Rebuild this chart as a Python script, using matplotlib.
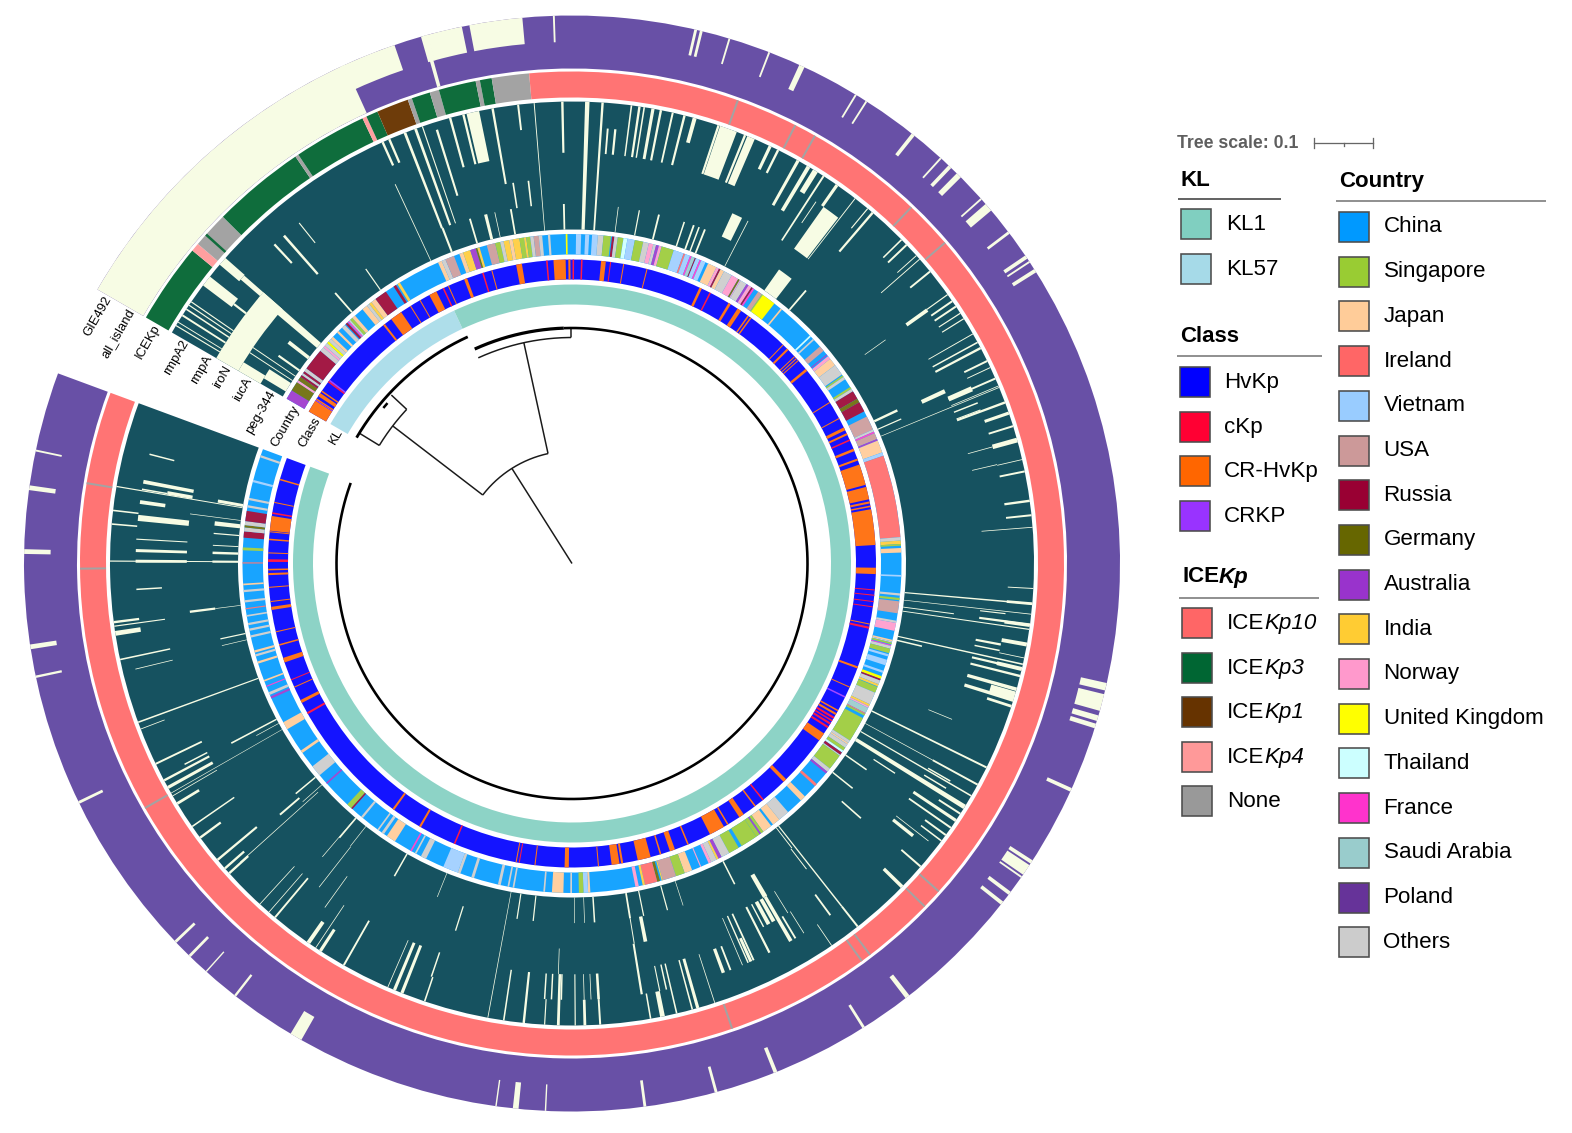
import matplotlib
matplotlib.use("Agg")
import matplotlib.pyplot as plt
import numpy as np

plt.rcParams['font.family'] = ['Liberation Sans', 'DejaVu Sans']

W, H = 1572, 1133
CX, CY, RMAX = 572.0, 563.5, 552.0

# angles are degrees clockwise from north, the ring runs from -60 to 290.3
START, END = -60.0, 290.3

kl_names = ["KL1", "KL57"]
kl_colors = ["#80CFC0", "#A6DAE8"]
class_names = ["HvKp", "cKp", "CR-HvKp", "CRKP"]
class_colors = ["#0000FF", "#FF0033", "#FF6600", "#9933FF"]
ice_names = ["10", "3", "1", "4"]
ice_colors = ["#FF6666", "#006633", "#663300", "#FF9999", "#999999"]
country_names = ["China", "Singapore", "Japan", "Ireland", "Vietnam", "USA", "Russia", "Germany", "Australia",
                 "India", "Norway", "United Kingdom", "Thailand", "France", "Saudi Arabia", "Poland", "Others"]
country_colors = ["#0099FF", "#99CC33", "#FFCC99", "#FF6666", "#99CCFF", "#CC9999", "#990033", "#666600", "#9933CC",
                  "#FFCC33", "#FF99CC", "#FFFF00", "#CCFFFF", "#FF33CC", "#99CCCC", "#663399", "#CCCCCC"]
column_labels = ["GIE492", "all_island", "ICEKp", "rmpA2", "rmpA", "iroN", "iucA", "peg-344", "Country", "Class", "KL"]

heat_color = "#165260"
absent_color = "#F7FCE4"
present_color = "#6850A6"

# colours in the rings look paler than the legend, thin white lines between the leaves
ring_country = dict(zip(["C", "Si", "J", "Ir", "V", "U", "R", "G", "A", "In", "N", "UK", "T", "F", "SA", "P", "O"],
                        ["#18A4FF", "#A3CF48", "#FFCFA0", "#FF7777", "#A6D2FF", "#CFA3A3", "#A31A45", "#77771A", "#A447D0",
                         "#FFD04A", "#FFA3D0", "#FFFF00", "#D2FFFF", "#FF47D0", "#A3D0D0", "#7547A3", "#D0D0D0"]))
ring_class = {"H": "#1414FF", "c": "#FF1A45", "R": "#FF7518", "P": "#A347FF"}
ring_ice = {"10": "#FF7474", "3": "#0F6D3C", "1": "#6E3C0A", "4": "#FF9F9F", "N": "#A3A3A3"}

kl_bands = [(-60, -25, "#AEDEEA"), (-25, 290.3, "#8DD3C6")]

country_bands = [
    (-60, -58.3, "A"), (-58.3, -56.6, "G"), (-56.6, -56.2, "N"), (-56.2, -55.5, "G"), (-55.5, -55.1, "R"),
    (-55.1, -54.7, "O"), (-54.7, -54.3, "R"), (-54.3, -53.7, "O"), (-53.7, -49.8, "R"), (-49.8, -49, "O"),
    (-49, -48.6, "N"), (-48.6, -48, "O"), (-48, -47.6, "UK"), (-47.6, -47, "O"), (-47, -46.5, "J"),
    (-45.5, -45.1, "J"), (-44.3, -43.6, "O"), (-43.4, -43, "R"), (-42.9, -42.6, "F"), (-42.6, -42.3, "O"),
    (-42.3, -41.8, "Si"), (-41.8, -41.2, "J"), (-39.5, -38.5, "J"), (-38.5, -38, "O"), (-38, -37.5, "In"),
    (-37.5, -36.6, "J"), (-36.6, -34.4, "R"), (-32.8, -32.3, "R"), (-32, -31.5, "In"), (-24, -23.3, "J"),
    (-23.3, -22.6, "O"), (-22.6, -21, "U"), (-20, -19.3, "J"), (-19.3, -18, "In"), (-18, -17, "A"),
    (-17, -16.7, "G"), (-16.7, -16.3, "In"), (-15, -13.5, "U"), (-13.5, -12.6, "Si"), (-12.6, -12, "O"),
    (-12, -11, "In"), (-11, -10.4, "J"), (-10.4, -9.2, "In"), (-9.2, -8.4, "Si"), (-8.4, -8, "In"),
    (-8, -7.3, "Si"), (-7.3, -6.7, "O"), (-6.7, -5.8, "U"), (-5.8, -5.2, "O"), (-4.2, -3.8, "O"),
    (-1.1, -0.8, "UK"), (0.7, 1.6, "V"), (2.3, 3, "V"), (3.5, 4.5, "V"), (4.5, 5.5, "O"), (5.5, 6.8, "Si"),
    (7, 7.4, "R"), (7.4, 8, "O"), (8, 9, "Si"), (9, 9.7, "T"), (9.7, 11, "V"), (11, 12.5, "Si"), (12.5, 13.5, "O"),
    (13.5, 14.3, "N"), (14.3, 14.8, "O"), (14.8, 15.3, "A"), (15.3, 15.8, "N"), (15.8, 18, "Si"), (18, 19.8, "V"),
    (19.8, 20.1, "Ir"), (20.1, 21, "V"), (21, 21.3, "F"), (21.3, 21.9, "SA"), (21.9, 22.1, "R"), (22.1, 22.8, "V"),
    (22.8, 23.1, "F"), (23.1, 23.9, "V"), (24.4, 26, "J"), (26, 26.5, "N"), (26.5, 26.8, "R"), (26.8, 27.5, "J"),
    (27.5, 29, "O"), (29, 30.3, "N"), (30.3, 30.6, "G"), (30.6, 30.8, "N"), (30.8, 32, "O"), (32, 32.4, "A"),
    (32.4, 33, "N"), (33, 33.3, "R"), (33.3, 33.6, "F"), (34.4, 35.2, "U"), (35.2, 35.4, "Si"), (35.4, 37.9, "UK"),
    (39.3, 39.6, "J"), (46.2, 46.5, "T"), (47, 47.3, "O"), (48.8, 49.8, "U"), (50.6, 50.8, "A"), (51, 51.6, "N"),
    (51.6, 53, "J"), (53, 55, "O"), (55.2, 55.5, "Si"), (55.5, 56, "O"), (57.6, 58, "Si"), (58, 58.5, "O"),
    (58.5, 60, "R"), (60, 60.7, "G"), (60.7, 62.5, "R"), (63.5, 66, "U"), (66, 66.4, "O"), (66.4, 66.7, "F"),
    (66.7, 67.8, "U"), (67.8, 68.1, "A"), (68.1, 70.3, "J"), (70.3, 70.9, "V"), (70.9, 85.4, "Ir"), (85.4, 86, "O"),
    (86, 86.6, "In"), (86.6, 86.9, "Si"), (87.3, 88.1, "J"), (92, 92.3, "V"), (95.2, 95.6, "O"), (96, 96.4, "Si"),
    (96.6, 98.7, "U"), (100, 100.4, "O"), (100.4, 101.8, "N"), (103.4, 103.7, "J"), (103.7, 103.9, "O"),
    (103.9, 104.2, "Si"), (104.3, 104.5, "F"), (104.5, 105, "O"), (105, 105.8, "Si"), (106, 106.4, "V"),
    (107, 108, "V"), (109, 109.4, "V"), (110, 110.5, "UK"), (110.5, 110.8, "R"), (110.8, 111.5, "O"),
    (111.5, 111.9, "In"), (112, 113.1, "Si"), (113.1, 115.3, "O"), (115.3, 115.7, "In"), (115.7, 116, "N"),
    (116, 117, "SA"), (117, 117.2, "Ir"), (117.2, 117.5, "Si"), (118, 122.5, "Si"), (122.5, 123, "O"),
    (123, 123.3, "J"), (123.3, 124, "O"), (124, 124.6, "Si"), (124.6, 125, "T"), (125, 125.5, "R"),
    (125.5, 125.7, "O"), (125.7, 128.5, "Si"), (128.5, 129.2, "O"), (129.2, 129.6, "A"), (132, 132.5, "Ir"),
    (135, 136, "J"), (139, 141, "O"), (141, 142.4, "J"), (142.8, 144.5, "J"), (144.5, 145, "Si"), (145, 145.3, "A"),
    (145.3, 146, "Si"), (146, 149, "Si"), (149.6, 151.5, "Si"), (151.5, 153, "O"), (153, 153.6, "A"),
    (153.6, 154, "In"), (154, 155, "O"), (155, 155.5, "N"), (156.9, 157.1, "N"), (158.6, 160, "J"),
    (160, 161.6, "Si"), (161.6, 164, "U"), (164, 164.2, "In"), (164.5, 165, "G"), (165, 167.2, "Ir"),
    (167.2, 167.6, "In"), (168.3, 168.9, "N"), (176.8, 177.2, "J"), (177.2, 178, "V"), (178, 178.8, "Si"),
    (180, 180.3, "O"), (181.5, 183.5, "J"), (184.7, 185, "O"), (190.1, 190.4, "O"), (191, 191.3, "O"),
    (192.5, 193, "O"), (197.3, 197.8, "O"), (199.8, 200.3, "O"), (200.3, 203, "V"), (206.3, 207.3, "O"),
    (208.2, 208.5, "O"), (209.1, 209.4, "F"), (212.5, 214.2, "J"), (214.8, 215.3, "O"), (215.9, 216.2, "O"),
    (219.4, 219.8, "O"), (221.8, 222.1, "R"), (222.1, 223, "Si"), (228, 228.3, "A"), (230, 232, "O"),
    (234.9, 235.4, "J"), (239.8, 241.2, "J"), (245.8, 246.2, "A"), (246.5, 247, "O"), (248, 248.2, "F"),
    (249, 249.3, "J"), (252.3, 252.7, "J"), (253.6, 254, "O"), (254.3, 254.7, "J"), (257, 257.4, "O"),
    (258.2, 258.6, "O"), (259.2, 259.6, "O"), (260.7, 261, "O"), (262, 262.2, "Ir"), (263.2, 263.6, "O"),
    (265, 265.4, "O"), (266.2, 266.5, "J"), (270, 270.2, "Ir"), (272.3, 272.8, "Si"), (274.5, 275.6, "R"),
    (275.6, 276.3, "O"), (276.3, 276.7, "G"), (276.7, 277.4, "O"), (277.4, 279.2, "R"), (279.8, 280.2, "O"),
    (281.1, 281.5, "O"), (284.3, 284.7, "V"), (288.8, 289.2, "O"),
]

class_bands = [
    (-60, -57.6, "R"), (-57.6, -57.4, "P"), (-57.4, -57.1, "R"), (-56.6, -55.9, "R"), (-55.6, -55.3, "R"),
    (-53.4, -53.1, "c"), (-53.1, -52.8, "P"), (-38.4, -38, "R"), (-36.5, -34.2, "R"), (-32.2, -32, "R"), (-30.1, -29.9, "R"),
    (-28, -26.5, "R"), (-25.2, -24.9, "c"), (-24.1, -23.9, "R"), (-20.8, -20.2, "R"), (-17.2, -16.9, "c"),
    (-15.4, -15.2, "R"), (-10.6, -9.5, "R"), (-4.9, -4.6, "c"), (-3.5, -1.2, "R"), (-0.7, -0.3, "R"), (0.1, 0.4, "c"),
    (1.7, 2, "c"), (5.5, 6.4, "R"), (7.2, 7.4, "c"), (9.7, 9.9, "R"), (14.2, 14.4, "R"), (24.8, 25.3, "R"),
    (26.9, 27.2, "c"), (31, 31.5, "R"), (33, 33.8, "R"), (35.3, 35.6, "R"), (35.9, 36.2, "R"), (43.9, 44.1, "R"),
    (45, 45.4, "R"), (47, 47.2, "R"), (47.5, 47.7, "R"), (48, 48.2, "R"), (50.2, 50.7, "R"), (57.9, 58.1, "R"),
    (61.4, 61.6, "R"), (63.4, 64, "R"), (64.6, 65, "R"), (65.9, 66.2, "c"), (67.8, 68.3, "R"), (69.8, 70.2, "R"),
    (71, 75, "R"), (75.4, 77.8, "R"), (78.2, 78.6, "R"), (79, 79.3, "R"), (79.7, 86.5, "R"), (90.8, 92, "R"),
    (94.9, 95.1, "c"), (95.9, 96.1, "c"), (97.1, 97.3, "c"), (98.1, 98.3, "c"), (101.4, 101.6, "R"), (102, 102.4, "c"),
    (109.8, 110.2, "R"), (113.9, 114.1, "R"), (115.9, 116.2, "P"), (118.8, 119.1, "R"), (119.5, 119.9, "R"),
    (120.3, 120.7, "c"), (121, 121.3, "c"), (121.6, 122, "c"), (122.4, 122.8, "c"), (124, 125.6, "R"),
    (135.2, 135.9, "R"), (140.9, 141.2, "c"), (142.8, 143.1, "R"), (145.6, 146.6, "R"), (149, 149.3, "R"),
    (150, 153, "R"), (157.4, 157.7, "R"), (160.2, 161.2, "R"), (162.9, 163.2, "R"), (165, 167.5, "R"), (170.3, 170.7, "R"),
    (171, 172.5, "R"), (174.9, 175.1, "R"), (180.6, 181.4, "R"), (186.9, 187.1, "R"), (189.9, 190.1, "c"),
    (190.5, 190.7, "R"), (202.6, 202.9, "c"), (209.8, 210.2, "R"), (215.8, 216.2, "R"), (240.3, 240.7, "c"),
    (242.7, 243.3, "R"), (245.9, 246.1, "R"), (247.4, 247.6, "c"), (251, 251.9, "R"), (254.3, 254.6, "R"),
    (256.9, 257.1, "R"), (261.2, 261.8, "R"), (262.7, 262.9, "R"), (265.4, 265.6, "R"), (267.8, 268.2, "R"),
    (268.7, 269, "R"), (270.3, 270.8, "c"), (271.9, 272.1, "R"), (274.4, 274.7, "R"), (275.9, 276.1, "R"),
    (276.2, 279, "R"), (279.4, 279.7, "c"), (281.5, 281.7, "R"), (285.9, 286.2, "R"),
]

ice_bands = [
    (-60, -50.5, "3"), (-50.5, -49.5, "4"), (-49.5, -45.2, "N"), (-48.2, -47.9, "3"), (-45.2, -34.2, "3"),
    (-34.2, -33.8, "N"), (-33.8, -25.2, "3"), (-25.2, -24.7, "4"), (-24.7, -23.3, "3"), (-23.3, -19.5, "1"),
    (-19.5, -19, "N"), (-19, -16.8, "3"), (-16.8, -15.7, "N"), (-15.7, -11.3, "3"), (-11.3, -10.8, "N"),
    (-10.8, -9.4, "3"), (-9.4, -5, "N"), (-5, 290.3, "10"),
]
ice_none_lines = [19.7, 27, 29.6, 43.6, 49.3, 131.8, 134.2, 142.7, 143.9, 161, 240.2, 269.4, 279.4]

# outer two columns: spans without the element
both_absent = [(-60, -24.5), (-15.8, -15.4)]
gie_absent = [(-25, -18.9), (-16, -15.2), (-15.3, -11.6), (-10.8, -5.2), (-2, -1.8), (12.9, 13.2), (13.5, 13.8), (16.6, 16.8),
              (21, 21.2), (24.5, 25.1), (31.1, 31.3), (32.4, 32.6), (38.3, 38.7), (42.2, 42.4), (43.4, 43.8), (44.6, 45.2),
              (48.2, 48.4), (49, 49.9), (52.7, 53), (55.8, 56.2), (56.5, 56.7), (57.5, 57.9), (102.6, 103.4), (103.8, 105.6),
              (106.1, 106.7), (107, 107.5), (114.2, 114.6), (122.8, 123.2), (123.4, 124.6), (124.8, 125), (126.8, 127.2),
              (128.1, 128.5), (142, 142.5), (147.7, 148), (158, 158.4), (164.6, 164.9), (172.2, 172.5), (182.7, 182.85),
              (185.6, 186.2), (187.9, 188.05), (209.6, 210.9), (217.8, 218.05), (221.8, 221.95), (224.1, 224.4), (226.2, 226.5),
              (244, 244.3), (257.95, 258.2), (261, 261.5), (271, 271.5), (277.7, 278.2), (281.8, 282)]

# heatmap holes: angle, first column edge, last column edge, width in degrees (columns 0 peg-344 .. 4 rmpA2)
heat_gaps = [
    # block next to the labels
    (-54.35, 2, 3, 11.3), (-59.0, 3, 5, 0.15), (-58.5, 3, 5, 0.12), (-57.5, 3, 5, 0.25), (-56.6, 3, 5, 0.2), (-56.0, 3, 5, 0.15),
    (-55.5, 3, 5, 0.15), (-52.3, 3.6, 5, 1.4), (-52.5, 3, 3.6, 0.3), (-49.15, 4, 5, 1.1), (-49.05, 3, 4, 0.7), (-49.25, 0, 3, 1.1),
    (-58.15, 0, 1, 1.7), (-59.25, 1, 2, 1.5), (-56.8, 0, 2, 0.15), (-55.9, 0, 2, 0.15), (-54.7, 0, 1, 0.35), (-52, 0, 1, 0.6),
    # top
    (-43, 3, 4, 0.3), (-41.3, 2, 4, 0.35), (-41.2, 0, 1, 0.3), (-38.7, 3, 4, 0.15), (-35, 0, 1, 0.2), (-25, 0, 3.3, 0.12), (-24.2, 4, 5, 0.3),
    (-23.3, 4, 5, 0.3), (-21.2, 1, 5, 0.35), (-21.1, 0, 1, 0.35), (-19.8, 1, 5, 0.35), (-18.9, 1, 5, 0.15), (-17.3, 2, 4.7, 0.3),
    (-15.3, 3, 5, 0.3), (-16.5, 0, 1, 0.3), (-13.9, 0, 1, 0.5), (-13.6, 3, 5, 0.3), (-12.4, 3, 5, 1.6), (-12.4, 0, 1, 0.12),
    (-9.9, 2, 5, 0.3), (-9.8, 0, 1, 0.3), (-8.8, 1, 2, 0.25), (-6.7, 4, 5, 0.25), (-6.5, 1, 2, 0.25), (-4.7, 0, 5, 0.12),
    (-1.2, 3, 5, 0.3), (-1.3, 0, 1, 0.3), (1.9, 0, 5, 0.55), (3.8, 0, 5, 0.3), (4.7, 3, 4, 0.25), (5.7, 3, 4, 0.3), (7.4, 3, 5, 0.2),
    (7.4, 0, 1, 0.12), (8.4, 3, 5, 0.3), (9, 3, 5, 0.2), (10.1, 3, 5, 0.4), (10.8, 0, 1, 0.2), (11.1, 3, 5, 0.3), (12.6, 3, 5, 0.25),
    (14, 0, 1, 0.3), (14.1, 3, 5, 0.3), (15.4, 4, 5, 0.5), (18.2, 0, 1, 0.25), (18.5, 3, 5, 0.3), (19.8, 0, 1, 0.3), (19.8, 3, 5, 2.2),
    (20.7, 0, 1, 0.25), (21.7, 0, 1, 0.3), (22, 3, 5, 0.3), (22.8, 3, 5, 1), (25.4, 4, 5, 0.4), (25.4, 1, 2, 1.6), (26.5, 4, 5, 0.3),
    (27.2, 0, 2, 0.12), (29.3, 3, 5, 0.4), (30.8, 3, 5, 0.5), (31.8, 4, 5, 0.7), (33, 2, 5, 0.25), (34, 3, 4, 0.12), (35, 4, 5, 0.4),
    (36.4, 2, 4, 2.4), (36.4, 0, 1, 2.5), (37.8, 2, 5, 0.12), (39.8, 4, 5, 0.15), (40.6, 3, 5, 0.3), (40.6, 0, 1, 0.3),
    # upper right
    (45.5, 4, 5, 0.2), (46.4, 4, 5, 0.25), (48.2, 4, 5, 0.12), (48.8, 3, 5, 0.12), (50.8, 4, 5, 0.25), (54.4, 4, 5, 0.15), (54.5, 3, 4, 0.5),
    (54.5, 1, 2, 0.1), (55.4, 4, 5, 0.25), (56.2, 4, 5, 0.25), (57.2, 4, 5, 0.15), (58, 4, 5, 0.15), (60.2, 3, 5, 0.12), (61.4, 3, 5, 0.2),
    (62.2, 3, 5, 0.3), (64, 4, 5, 0.25), (64.9, 4, 5, 0.12), (64.8, 0, 1, 0.4), (65.2, 2, 3, 0.6), (66.3, 0, 1, 0.2), (66.4, 3, 5, 0.25),
    (66.4, 3, 4, 0.7), (67.4, 3, 5, 0.1), (67.6, 0, 5, 0.1), (68.4, 3, 4, 0.2), (69.4, 3, 4, 0.15), (69.6, 3, 5, 0.3), (71, 4, 5, 0.4),
    (72.7, 4, 5, 0.25), (74.5, 4, 5, 0.6), (74.5, 3, 4, 0.1), (76.9, 3, 4, 0.1), (77, 4, 5, 0.1), (78.5, 4, 5, 0.25), (82.2, 4, 5, 0.3),
    (84, 4, 5, 0.25), (85.5, 3, 5, 0.1),
    # lower right
    (93.1, 4, 5, 0.12), (95, 0, 5, 0.2), (95, 4, 5, 0.35), (96.3, 0, 5, 0.1), (96.6, 3, 4, 0.15), (97.5, 0, 2, 0.15), (97.6, 3, 5, 0.3),
    (97.7, 4, 5, 0.4), (98.2, 0, 5, 0.15), (100.1, 4, 5, 0.5), (100.7, 3, 4, 0.3), (101.5, 3, 4, 0.2), (101.8, 4, 5, 0.1), (102.6, 0, 5, 0.2),
    (103.2, 3, 5, 0.3), (103.2, 4, 5, 0.5), (103.3, 0, 1, 0.25), (104.1, 3, 5, 0.3), (105.8, 3, 5, 0.45), (106.6, 4, 5, 1), (107.2, 3, 5, 0.45),
    (108, 4, 5, 0.35), (112.3, 2, 3, 0.1), (116.2, 0, 5, 0.25), (118.6, 0, 3, 0.1), (118.6, 3, 5, 0.25), (119.9, 3, 4, 0.2), (120.2, 0, 5, 0.2),
    (121, 3, 4, 0.2), (121.8, 0, 5, 0.6), (122.8, 4, 5, 0.25), (123, 1, 2, 0.2), (123.8, 3, 5, 0.4), (124.9, 3, 5, 0.25), (125, 0, 1, 0.25),
    (126, 4, 5, 0.25), (126.9, 4, 5, 0.2), (127.9, 3, 4.6, 0.1), (128.6, 3, 4, 0.45), (128.7, 0, 1, 0.25), (131, 4, 5, 0.25), (131.4, 1, 2, 0.25),
    (134.4, 4, 5, 0.45), (141.8, 0, 4, 0.2), (141.8, 4, 5, 0.25), (142.3, 0, 1, 0.15), (142.5, 1, 2, 0.15), (143.7, 3, 4, 0.25), (145.8, 4, 5, 0.1),
    (147.9, 3, 4, 0.1), (148.3, 2, 3, 0.1), (149.2, 3, 4, 0.25), (149.9, 2, 4, 0.5), (149.9, 1, 2, 0.7), (150.6, 2, 3, 0.55), (151.4, 2, 3, 0.55),
    (152.2, 2, 3, 0.2), (153.1, 2, 4, 0.3), (153.1, 0, 1, 0.25), (155.4, 2, 4, 0.25), (155.8, 3, 4, 0.4), (156.2, 2, 4, 0.2), (157, 2, 4, 0.1),
    (158.7, 3, 4, 0.25), (159.7, 3, 4, 0.45), (162, 0, 1, 0.1), (162, 3, 5, 0.1), (164.2, 3, 5, 0.4), (164.6, 0, 1, 0.2), (164.9, 3, 5, 0.2),
    (166.9, 3, 5, 0.2), (167.5, 3, 4, 0.2), (168.4, 3, 4, 0.15), (168.5, 0, 1, 0.2), (168.7, 4, 5, 0.6), (169, 1, 2, 0.55), (170.2, 4, 5, 0.2),
    (170.7, 0, 1, 0.3), (170.7, 1, 2, 0.15), (170.8, 2, 4, 0.3), (176.4, 0, 1, 0.25), (176.5, 3, 4, 0.35), (176.5, 4, 5, 0.25), (177.5, 3, 4, 0.1),
    (178, 0, 1, 0.1), (178.4, 3, 4, 0.1), (178.4, 4, 5, 0.35), (179.6, 0, 1, 0.1), (179.6, 3, 5, 0.15),
    # lower left
    (181.4, 3, 4, 0.2), (181.7, 3, 5, 0.35), (181.9, 2, 3, 0.1), (182.7, 3, 4, 0.2), (183.4, 4, 5, 0.15), (183.6, 3, 4, 0.2), (186, 3, 5, 0.3),
    (186.2, 0, 1, 0.2), (188.5, 3, 5, 0.2), (188.8, 0, 1, 0.2), (190.5, 0, 5, 0.1), (197.6, 1, 2, 0.2), (198.6, 4, 5, 0.2), (198.8, 3, 4, 0.2),
    (201.6, 3, 5, 0.4), (202, 0, 1, 0.1), (202.6, 3, 5, 0.4), (203.5, 3, 5, 0.1), (209.6, 0, 1, 0.25), (209.6, 3, 5, 0.25), (213, 4, 5, 0.4),
    (213.7, 3, 5, 0.1), (214.8, 4, 5, 0.5), (215.7, 2, 3.5, 0.1), (218, 1, 3, 0.1), (218.1, 0, 1, 0.1), (220, 3, 5, 0.25), (220.3, 0, 1, 0.25),
    (220.4, 0, 2, 0.1), (221, 3, 5, 0.1), (222.5, 3, 5, 0.1), (227.9, 4, 5, 0.3), (228, 0.3, 4.4, 0.1), (228.5, 0, 1, 0.1), (228.7, 4, 5, 0.3),
    (229.3, 1, 2, 0.3), (230.2, 0, 1, 0.25), (230.1, 3, 5, 0.3), (233.6, 4, 5, 0.3), (235.3, 3, 5, 0.2),
    # left
    (238.7, 4, 5, 0.35), (239.8, 3, 5, 0.1), (240.2, 0, 5, 0.08), (241, 3, 5, 0.4), (241.4, 0, 1, 0.1), (242, 3, 5, 0.3), (242.2, 0, 2, 0.25),
    (242.6, 3, 4, 0.2), (244.3, 3, 5, 0.25), (249, 4, 5, 0.1), (249.9, 0, 5, 0.2), (256.4, 3, 4.5, 0.1), (256.8, 0, 1, 0.1), (257.9, 0, 1, 0.2),
    (258, 3, 5, 0.2), (261.3, 4, 5, 0.6), (262.2, 3, 5, 0.15), (262.7, 4, 5, 0.3), (262.8, 1, 2, 0.35), (262.8, 0, 1, 0.1), (266.6, 3, 4, 0.2),
    (270.3, 0, 5, 0.15), (270.3, 2, 4, 0.4), (270.3, 0, 1, 0.35), (271.7, 0, 1, 0.4), (271.7, 2, 4, 0.4), (272.9, 0, 1, 0.15), (273.2, 2, 4, 0.15),
    (274.8, 0, 1, 0.2), (274.9, 4, 5, 0.2), (276, 2, 4, 0.8), (276.4, 0, 1, 0.7), (276.6, 4, 5, 0.2), (277.4, 0, 2, 0.1), (278.1, 3, 4, 0.5),
    (279.6, 0, 5, 0.15), (279.8, 3, 4, 0.2), (279.9, 2, 3, 0.5), (280, 0, 1, 0.5), (280.8, 2, 4, 0.5), (284.5, 3, 4, 0.2),
]

# tree: radial branches (angle, r from, r to) and arcs (r, angle from, angle to, width in px)
tree_radial = [(-32.3, 0, 112.5), (-52.5, 112.5, 226), (-12.3, 112.5, 226), (-47, 226, 247), (-58.5, 226, 249), (-0.25, 226, 235)]
tree_arcs = [(112.5, -52.5, -12.3, 1.5), (226, -58.5, -47, 1.5), (226, -24.5, -0.25, 1.5), (249.5, -59.7, -24.7, 2.8),
             (244.5, -50.5, -49, 2.5), (235.5, -24.4, -2, 3.2), (235.5, -2, 290, 2.6)]

rad = np.deg2rad


def draw_bands(ax, bands, r0, r1, palette=None):
    for a, b, code in bands:
        colour = palette[code] if palette else code
        ax.bar(rad(a), r1 - r0, width=rad(b - a), bottom=r0, align='edge', color=colour, linewidth=0)


def px(v):
    return v * 0.72


def swatch(lax, x, y, colour):
    lax.add_patch(plt.Rectangle((x, y), 30, 30, facecolor=colour, edgecolor="#4d4d4d", linewidth=px(1.6)))


def title_line(lax, x0, x1, y, colour="#6e6e6e"):
    lax.plot([x0, x1], [y, y], color=colour, linewidth=px(1.5), solid_capstyle='butt')


def italic_label(fig, lax, x, y, head, tail, size, weight='normal'):
    # upright part first, the italic part starts where it ends
    t = lax.text(x, y, head, fontsize=size, va='center', ha='left', weight=weight, color='black')
    fig.canvas.draw()
    ext = t.get_window_extent()
    lax.text(x + ext.width, y, tail, fontsize=size, va='center', ha='left', style='italic', weight=weight, color='black')


fig = plt.figure(figsize=(W / 100, H / 100), dpi=100, facecolor='white')
ax = fig.add_axes([(CX - RMAX) / W, (H - CY - RMAX) / H, 2 * RMAX / W, 2 * RMAX / H], projection='polar')
ax.set_theta_zero_location('N')
ax.set_theta_direction(-1)
ax.axis('off')

# rings from the centre out
draw_bands(ax, kl_bands, 259, 279)
draw_bands(ax, [(START, END, "H")], 284, 304, ring_class)
draw_bands(ax, class_bands, 284, 304, ring_class)
draw_bands(ax, [(START, END, "C")], 309, 329.5, ring_country)
draw_bands(ax, country_bands, 309, 329.5, ring_country)

heat_r0, col_w = 334, 25.6
draw_bands(ax, [(START, END, heat_color)], heat_r0, heat_r0 + 5 * col_w)
for a, c0, c1, w in heat_gaps:
    ax.bar(rad(a - w / 2), (c1 - c0) * col_w, width=rad(w), bottom=heat_r0 + c0 * col_w, align='edge',
           color=absent_color, linewidth=0)

draw_bands(ax, ice_bands, 466, 492, ring_ice)
draw_bands(ax, [(a - 0.12, a + 0.12, "N") for a in ice_none_lines], 466, 492, ring_ice)

# all_island and GIE492 share one base so no seam shows between the two columns
draw_bands(ax, [(START, END, present_color)], 495, 548)
draw_bands(ax, [(a, b, absent_color) for a, b in both_absent], 495, 548)
draw_bands(ax, [(a, b, absent_color) for a, b in gie_absent], 521.5, 548)

for a, r0, r1 in tree_radial:
    ax.plot([rad(a), rad(a)], [r0, r1], color="#1a1a1a", linewidth=px(1.5), solid_capstyle='butt')
for r, a0, a1, lw in tree_arcs:
    th = rad(np.linspace(a0, a1, 400))
    ax.plot(th, np.full_like(th, r), color="black" if lw > 2 else "#1a1a1a", linewidth=px(lw), solid_capstyle='butt')

ax.set_xlim(0, 2 * np.pi)
ax.set_ylim(0, RMAX)

# everything else is placed in image pixels
lax = fig.add_axes([0, 0, 1, 1], facecolor='none')
lax.set_xlim(0, W)
lax.set_ylim(H, 0)
lax.axis('off')

label_xy = [(98, 316), (118, 333), (148, 342), (176, 357), (202, 370), (222, 377), (243, 390), (261, 412), (286, 426), (310, 432), (336, 437)]
for name, (x, y) in zip(column_labels, label_xy):
    lax.text(x, y, name, fontsize=9.4, rotation=60, rotation_mode='anchor', ha='center', va='center', color='black')

lax.text(1177, 143, "Tree scale: 0.1", fontsize=12.7, weight='bold', color="#5f5f5f", va='center', ha='left')
lax.plot([1314, 1373], [143, 143], color="#666666", linewidth=px(1.3))
for x, y0, y1 in [(1314, 138, 148), (1373, 138, 148), (1343.5, 143, 146)]:
    lax.plot([x, x], [y0, y1], color="#666666", linewidth=px(1.3))

SIZE = 16.1
TITLE = 16
lax.text(1181, 180, "KL", fontsize=TITLE, weight='bold', va='center')
title_line(lax, 1178, 1281, 199, "#333333")
for i, name in enumerate(kl_names):
    y = 209 + i * 44.7
    swatch(lax, 1181, y, kl_colors[i])
    lax.text(1226, y + 16, name, fontsize=SIZE, va='center')

lax.text(1180, 336, "Class", fontsize=TITLE, weight='bold', va='center')
title_line(lax, 1177, 1322, 356)
for i, name in enumerate(class_names):
    y = 367 + i * 44.7
    swatch(lax, 1179.5, y, class_colors[i])
    lax.text(1224, y + 15.5, name, fontsize=SIZE, va='center')

italic_label(fig, lax, 1182, 577, "ICE", "Kp", TITLE, weight='bold')
title_line(lax, 1179, 1319, 598)
for i, name in enumerate(ice_names):
    y = 608 + i * 44.6
    swatch(lax, 1182, y, ice_colors[i])
    italic_label(fig, lax, 1227, y + 15.5, "ICE", "Kp" + name, SIZE)
swatch(lax, 1182, 608 + 4 * 44.6, ice_colors[4])
lax.text(1227, 608 + 4 * 44.6 + 15.5, "None", fontsize=SIZE, va='center')

lax.text(1339, 181, "Country", fontsize=TITLE, weight='bold', va='center')
title_line(lax, 1336, 1546, 201)
for i, name in enumerate(country_names):
    y = 212 + i * 44.7
    swatch(lax, 1338.5, y, country_colors[i])
    lax.text(1383.5, y + 15, name, fontsize=SIZE, va='center')

fig.savefig("out.png", dpi=100, facecolor='white')
